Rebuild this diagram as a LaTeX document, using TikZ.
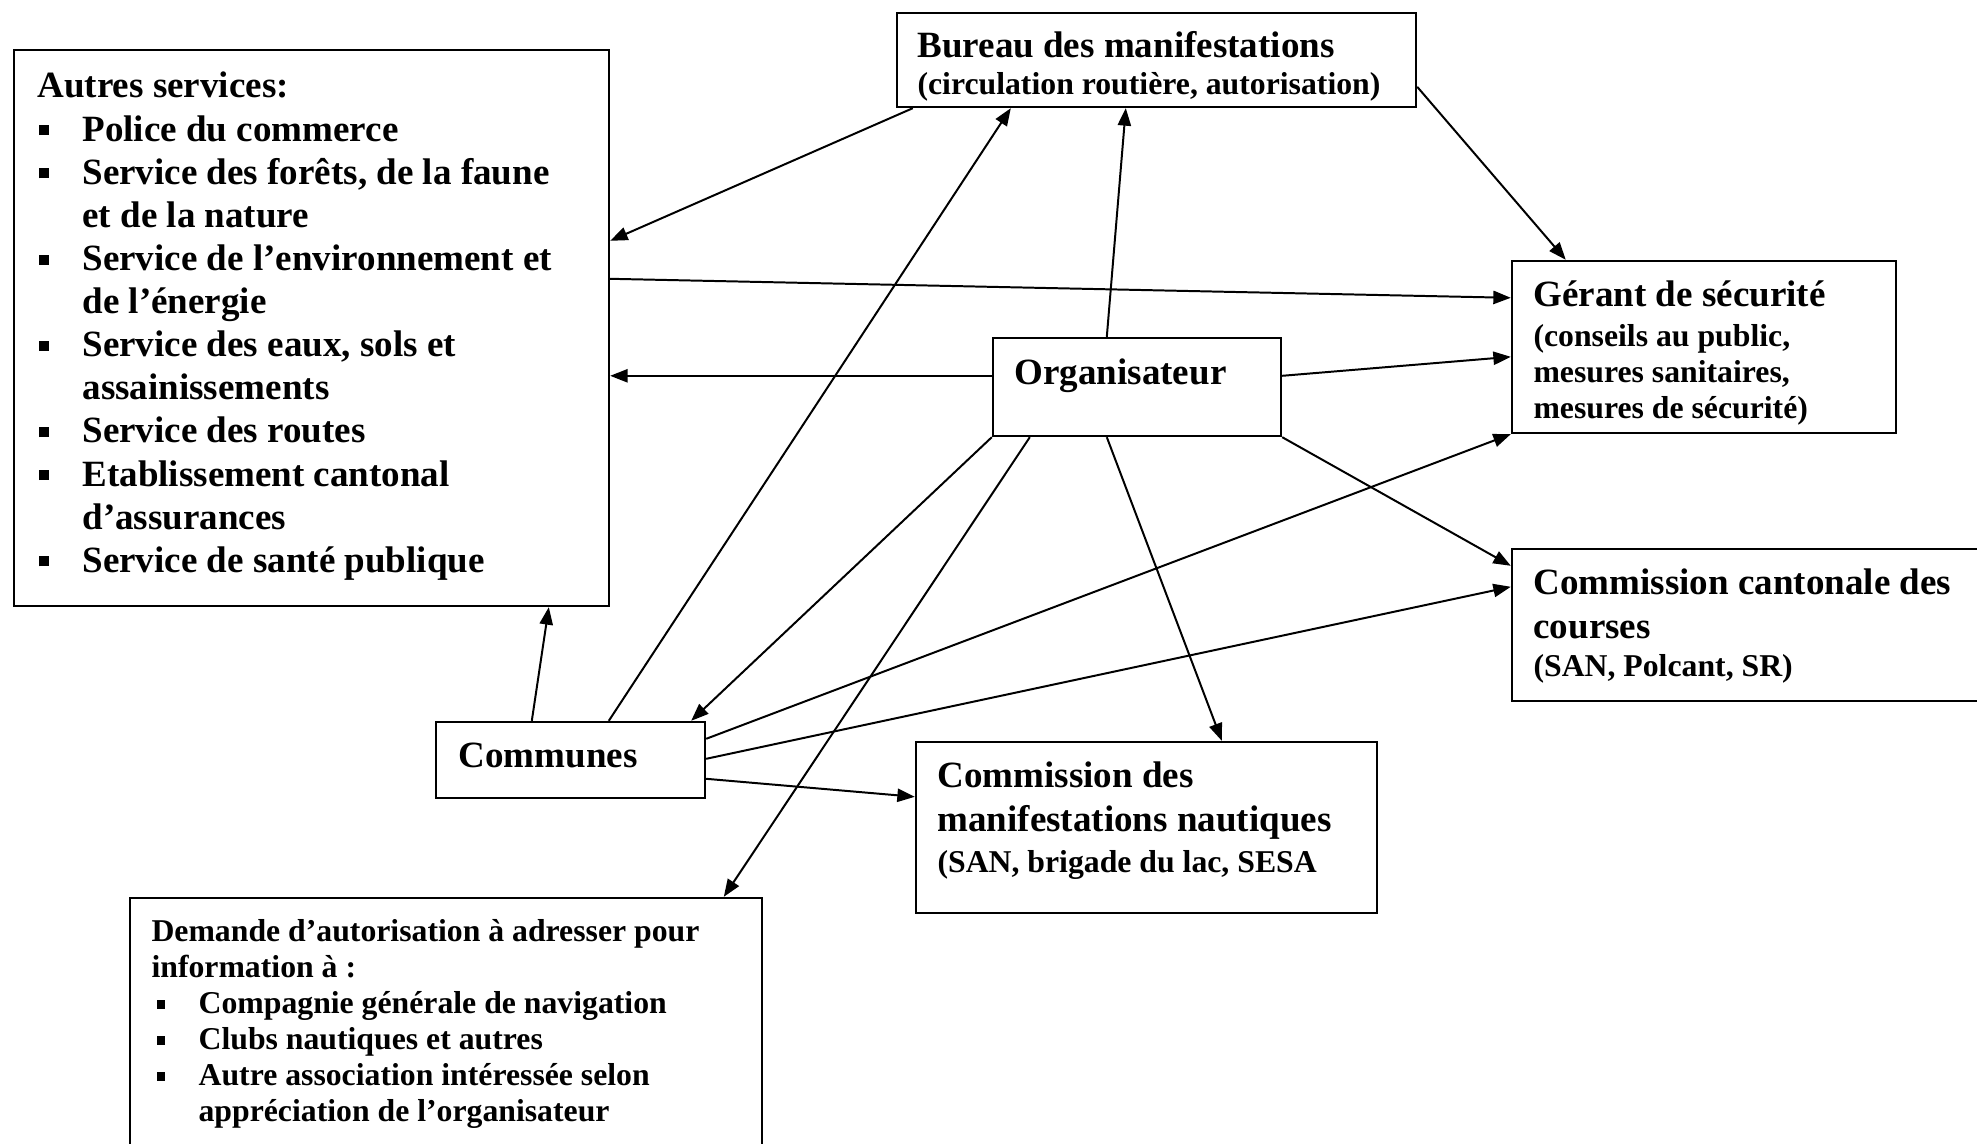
\documentclass[tikz,border=0pt]{standalone}
\usepackage{fontspec}
\setmainfont{Liberation Serif}
\usepackage{tikz}
\usetikzlibrary{arrows.meta,positioning,calc}

\newcommand{\pxu}{0.378pt}
\newcommand{\sqb}{\rule[0.16em]{0.27em}{0.27em}}
\newcommand{\bitem}{\makebox[17pt][l]{\hspace{0.4pt}\sqb}}
\newcommand{\bcont}{\makebox[17pt]{}}
\newcommand{\sitem}{\makebox[17.8pt][l]{\hspace{1.9pt}\sqb}}
\newcommand{\scont}{\makebox[17.8pt]{}}
\newcommand{\lines}[1]{\begin{tabular}[t]{@{}l@{}}#1\end{tabular}}

\tikzset{
  box/.style={draw, line width=0.9pt, inner sep=0pt},
  big/.style={anchor=base west, inner sep=0pt, font=\fontsize{14}{16.3}\selectfont\bfseries},
  small/.style={anchor=base west, inner sep=0pt, font=\fontsize{12}{13.6}\selectfont\bfseries},
  arr/.style={-{Triangle[length=6.6pt,width=5pt]}, line width=0.75pt}
}

\begin{document}
\begin{tikzpicture}[x=0.378pt,y=-0.378pt]
\useasboundingbox (0,0) rectangle (1977,1144);

% boxes
\node at (311.5,328) [box, minimum width=595*\pxu, minimum height=556*\pxu] (srv) {};
\node at (1156.5,60) [box, minimum width=519*\pxu, minimum height=94*\pxu] (bur) {};
\node at (1704,347) [box, minimum width=384*\pxu, minimum height=172*\pxu] (ger) {};
\node at (1137,387) [box, minimum width=288*\pxu, minimum height=98*\pxu] (org) {};
\node at (1751,625) [box, minimum width=478*\pxu, minimum height=152*\pxu] (cc) {};
\node at (570.5,760) [box, minimum width=269*\pxu, minimum height=76*\pxu] (com) {};
\node at (1146.5,827.5) [box, minimum width=461*\pxu, minimum height=171*\pxu] (nau) {};
\node at (446,1029) [box, minimum width=632*\pxu, minimum height=262*\pxu] (dem) {};

% texts
\node at (37,98) [big] (srvt) {\lines{Autres services:\\
\bitem Police du commerce\\
\bitem Service des forêts, de la faune\\
\bcont et de la nature\\
\bitem Service de l’environnement et\\
\bcont de l’énergie\\
\bitem Service des eaux, sols et\\
\bcont assainissements\\
\bitem Service des routes\\
\bitem Etablissement cantonal\\
\bcont d’assurances\\
\bitem Service de santé publique}};
\node at (917,58) [big] (burt) {Bureau des manifestations};
\node at (917,95) [small] (burs) {(circulation routière, autorisation)};
\node at (1533,307) [big] (gert) {Gérant de sécurité};
\node at (1533,347) [small] (gers) {\lines{(conseils au public,\\mesures sanitaires,\\mesures de sécurité)}};
\node at (1014,385) [big] (orgt) {Organisateur};
\node at (1533,595) [big, font=\fontsize{14}{16.6}\selectfont\bfseries] (cct) {\lines{Commission cantonale des\\courses}};
\node at (1533,677) [small] (ccs) {(SAN, Polcant, SR)};
\node at (458,768) [big] (comt) {Communes};
\node at (937,788) [big, font=\fontsize{14}{16.6}\selectfont\bfseries] (naut) {\lines{Commission des\\manifestations nautiques}};
\node at (937,873) [small] (naus) {(SAN, brigade du lac, SESA};
\node at (151,942) [small] (demt) {\lines{Demande d’autorisation à adresser pour\\
information à :\\
\sitem Compagnie générale de navigation\\
\sitem Clubs nautiques et autres\\
\sitem Autre association intéressée selon\\
\scont appréciation de l’organisateur}};

% connectors
\draw[arr] ($(bur.south west)+(17,0)$) -- ($(srv.north east)+(0,192)$);
\draw[arr] ($(srv.north east)+(0,230)$) -- ($(ger.north west)+(0,38)$);
\draw[arr] ($(org.north west)+(0,39)$) -- ($(srv.north east)+(0,327)$);
\draw[arr] ($(org.north west)+(115,0)$) -- ($(bur.south west)+(230,0)$);
\draw[arr] ($(bur.north east)+(0,75)$) -- ($(ger.north west)+(55,0)$);
\draw[arr] ($(org.north east)+(0,39)$) -- ($(ger.north west)+(0,97)$);
\draw[arr] (org.south east) -- ($(cc.north west)+(0,18)$);
\draw[arr] ($(org.south west)+(115,0)$) -- ($(nau.north west)+(307,0)$);
\draw[arr] ($(org.south west)+(38,0)$) -- ($(dem.north west)+(595,0)$);
\draw[arr] (org.south west) -- ($(com.north east)+(-15,0)$);
\draw[arr] ($(com.north west)+(174,0)$) -- ($(bur.south west)+(115,0)$);
\draw[arr] ($(com.north west)+(97,0)$) -- ($(srv.south west)+(536,0)$);
\draw[arr] ($(com.north east)+(0,18)$) -- (ger.south west);
\draw[arr] ($(com.north east)+(0,38)$) -- ($(cc.north west)+(0,39)$);
\draw[arr] ($(com.north east)+(0,58)$) -- ($(nau.north west)+(0,56)$);

\end{tikzpicture}
\end{document}
